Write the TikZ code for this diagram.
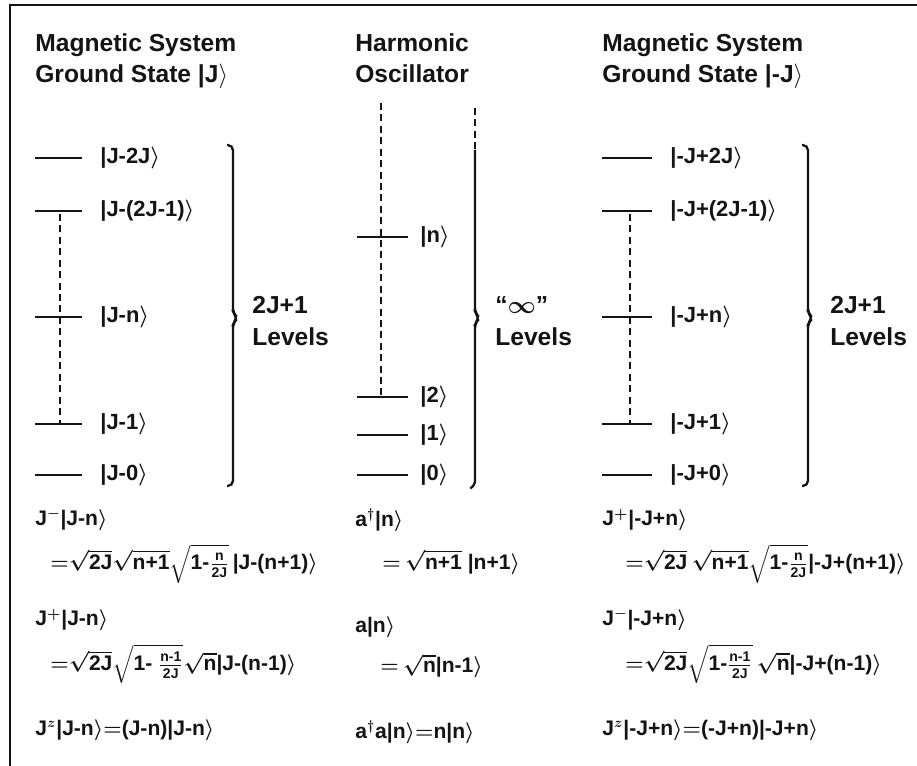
\documentclass[tikz,border=0pt]{standalone}
\usepackage{fix-cm}
\usepackage{amsmath}
\usepackage{fontspec}
\setmainfont{Liberation Sans}
\usepackage{tikz}
\usetikzlibrary{positioning}
\definecolor{myink}{RGB}{20,20,20}
\newcommand{\ket}[1]{|#1$\rangle$}
\newcommand{\sqt}[1]{\sqrt{\text{#1}}}
\tikzset{
  frame/.style={line width=1.4pt, color=myink},
  lvl/.style={line width=1.6pt, color=myink},
  ladder/.style={line width=0.9pt, color=myink, dash pattern=on 4pt off 2.5pt},
  bracket/.style={line width=1.3pt, color=myink, rounded corners=3pt},
  title/.style={anchor=base west, inner sep=0pt, color=myink,
    font=\fontsize{14}{16}\selectfont\bfseries},
  ketlabel/.style={anchor=west, inner sep=0pt, color=myink,
    font=\fontsize{12.5}{14}\selectfont\bfseries\boldmath},
  eqn/.style={anchor=west, inner sep=0pt, color=myink,
    font=\fontsize{12}{14}\selectfont\bfseries\boldmath}
}
\begin{document}
\begin{tikzpicture}[x=0.02cm, y=-0.02cm]
  \useasboundingbox (0,0) rectangle (917,766);
  % Frame
  \draw[frame] (917,5) -- (10,5) -- (10,766);

  % Column titles
  \node[title] (magA) at (35,52) {Magnetic System};
  \node[title] (gsA) at (35,83) {Ground State \ket{J}};
  \node[title] (harm) at (355,52) {Harmonic};
  \node[title] (osc) at (355,83) {Oscillator};
  \node[title] (magB) at (602,52) {Magnetic System};
  \node[title] (gsB) at (602,83) {Ground State \ket{-J}};

  % Left ladder, ground state |J>
  \draw[lvl] (35,158) -- (82,158);
  \draw[lvl] (35,211) -- (82,211);
  \draw[lvl] (35,317) -- (82,317);
  \draw[lvl] (35,424) -- (82,424);
  \draw[lvl] (35,475) -- (82,475);
  \node[ketlabel] (a2J) at (100,158) {\ket{J-2J}};
  \node[ketlabel] (a2Jm) at (100,211) {\ket{J-(2J-1)}};
  \node[ketlabel] (an) at (100,317) {\ket{J-n}};
  \node[ketlabel] (a1) at (100,424) {\ket{J-1}};
  \node[ketlabel] (a0) at (100,475) {\ket{J-0}};
  \coordinate (aTop) at (60,214);
  \coordinate (aBot) at (60,423);
  \draw[ladder] (aTop) -- (aBot);
  \draw[bracket] (227,145) -- (233,145) -- (233,313) -- (238,318) -- (233,323) -- (233,486) -- (227,486);
  \node[title, anchor=west] (aNum) at (252,305) {2J+1};
  \node[title, anchor=west] (aLev) at (252,337) {Levels};

  % Middle ladder, oscillator
  \coordinate (hTop) at (381,103);
  \coordinate (hBot) at (381,395);
  \draw[ladder] (hTop) -- (hBot);
  \draw[lvl] (357,237) -- (408,237);
  \draw[lvl] (357,397) -- (408,397);
  \draw[lvl] (357,435) -- (408,435);
  \draw[lvl] (357,475) -- (408,475);
  \node[ketlabel] (hn) at (420,237) {\ket{n}};
  \node[ketlabel] (h2) at (420,397) {\ket{2}};
  \node[ketlabel] (h1) at (420,435) {\ket{1}};
  \node[ketlabel] (h0) at (420,475) {\ket{0}};
  \draw[ladder] (475,108) -- (475,150);
  \draw[bracket] (475,150) -- (475,313) -- (480,318) -- (475,323) -- (475,486) -- (471,488);
  \node[title, anchor=west] (hInf) at (495,305) {``$\boldsymbol{\infty}$''};
  \node[title, anchor=west] (hLev) at (495,337) {Levels};

  % Right ladder, ground state |-J>
  \draw[lvl] (602,158) -- (652,158);
  \draw[lvl] (602,211) -- (652,211);
  \draw[lvl] (602,317) -- (652,317);
  \draw[lvl] (602,424) -- (652,424);
  \draw[lvl] (602,475) -- (652,475);
  \node[ketlabel] (b2J) at (670,158) {\ket{-J+2J}};
  \node[ketlabel] (b2Jm) at (670,211) {\ket{-J+(2J-1)}};
  \node[ketlabel] (bn) at (670,317) {\ket{-J+n}};
  \node[ketlabel] (b1) at (670,424) {\ket{-J+1}};
  \node[ketlabel] (b0) at (670,475) {\ket{-J+0}};
  \coordinate (bTop) at (630,214);
  \coordinate (bBot) at (630,423);
  \draw[ladder] (bTop) -- (bBot);
  \draw[bracket] (802,145) -- (808,145) -- (808,313) -- (813,318) -- (808,323) -- (808,486) -- (802,486);
  \node[title, anchor=west] (bNum) at (830,305) {2J+1};
  \node[title, anchor=west] (bLev) at (830,337) {Levels};

  % Operator relations, left
  \node[eqn] (aLow) at (35,520) {J$^-$\ket{J-n}};
  \node[eqn] (aLowR) at (50,564) {${=}\sqt{2J}\sqt{n+1}\sqrt{\text{1-}\frac{\text{n}}{\text{2J}}}$\,\ket{J-(n+1)}};
  \node[eqn] (aUp) at (35,620) {J$^+$\ket{J-n}};
  \node[eqn] (aUpR) at (50,664) {${=}\sqt{2J}\sqrt{\text{1- }\frac{\text{n-1}}{\text{2J}}}\sqt{n}$\ket{J-(n-1)}};
  \node[eqn] (aZ) at (35,730) {J$^z$\ket{J-n}${=}$(J-n)\ket{J-n}};

  % Operator relations, middle
  \node[eqn] (hUp) at (355,520) {a$^\dagger$\ket{n}};
  \node[eqn] (hUpR) at (382,562) {${=}\,\sqt{n+1}$\ \ket{n+1}};
  \node[eqn] (hLow) at (355,627) {a\ket{n}};
  \node[eqn] (hLowR) at (380,666) {${=}\,\sqt{n}$\ket{n-1}};
  \node[eqn] (hNum) at (355,732) {a$^\dagger$a\ket{n}${=}$n\ket{n}};

  % Operator relations, right
  \node[eqn] (bUp) at (602,520) {J$^+$\ket{-J+n}};
  \node[eqn] (bUpR) at (625,564) {${=}\sqt{2J}\,\sqt{n+1}\sqrt{\text{1-}\frac{\text{n}}{\text{2J}}}$\ket{-J+(n+1)}};
  \node[eqn] (bLow) at (602,620) {J$^-$\ket{-J+n}};
  \node[eqn] (bLowR) at (625,664) {${=}\sqt{2J}\sqrt{\text{1-}\frac{\text{n-1}}{\text{2J}}}\,\sqt{n}$\ket{-J+(n-1)}};
  \node[eqn] (bZ) at (602,730) {J$^z$\ket{-J+n}${=}$(-J+n)\ket{-J+n}};
\end{tikzpicture}
\end{document}
